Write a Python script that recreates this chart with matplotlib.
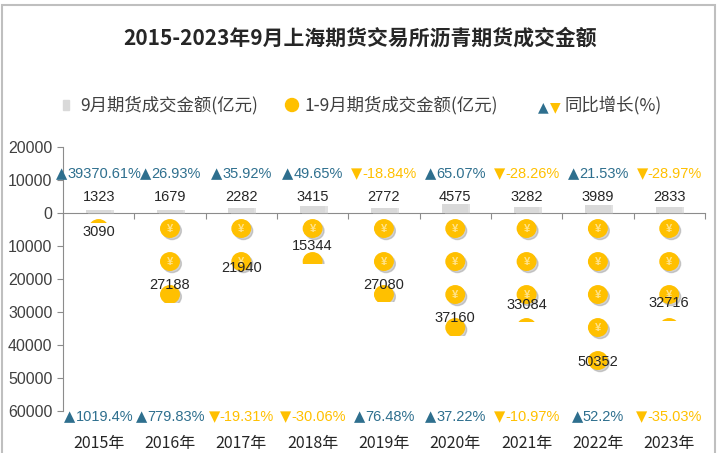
import numpy as np
import matplotlib.pyplot as plt
import matplotlib.transforms as mtransforms
from matplotlib.patches import Ellipse, Rectangle
from matplotlib.ticker import FuncFormatter
from matplotlib.offsetbox import TextArea, HPacker, AnnotationBbox

years = ['2015年', '2016年', '2017年', '2018年', '2019年', '2020年', '2021年', '2022年', '2023年']
sep_amount = [1323, 1679, 2282, 3415, 2772, 4575, 3282, 3989, 2833]
ytd_amount = [3090, 27188, 21940, 15344, 27080, 37160, 33084, 50352, 32716]
sep_yoy = [39370.61, 26.93, 35.92, 49.65, -18.84, 65.07, -28.26, 21.53, -28.97]
ytd_yoy = [1019.4, 779.83, -19.31, -30.06, 76.48, 37.22, -10.97, 52.2, -35.03]

blue = '#2E6F8E'
gold = '#FFC000'
numfont = ['Liberation Sans', 'DejaVu Sans']
cjk = ['Noto Sans CJK SC', 'DejaVu Sans']

fig = plt.figure(figsize=(7.2, 4.53), dpi=100)
# outer frame
fig.patches.append(Rectangle((0.003, -0.01), 0.99, 0.998, transform=fig.transFigure,
                             fill=False, edgecolor='#BFBFBF', linewidth=1.5))

ax = fig.add_axes([0.0875, 0.0927, 0.8915, 0.5828])
ax2 = ax.twinx()
ax2.set_ylim(-100000, 33333)
ax2.axis('off')

x = np.arange(len(years))
ax.set_xlim(-0.5, 8.5)
ax.set_ylim(-60000, 20000)

# 9月 bars (secondary scale) with a soft shadow
ax2.bar(x + 0.03, np.array(sep_amount) + 700, width=0.36, bottom=-700, color='#BDBDBD',
        alpha=0.45, zorder=1)
ax2.bar(x, sep_amount, width=0.36, color='#D9D9D9', zorder=2)
for i, v in enumerate(sep_amount):
    ax.text(i, 5000, str(v), ha='center', va='center', fontsize=10.5,
            family=numfont, color='#262626')

# 1-9月 coin pictograph, one coin per 10000
unit = 10000
cw, ch = 0.26, 5300
for i, v in enumerate(ytd_amount):
    clip = Rectangle((i - 0.5, -v), 1.0, v, transform=ax.transData)
    n = int(np.ceil(v / unit))
    for k in range(n):
        cy = -(k * unit + 4700)
        sh = Ellipse((i + 0.03, cy - 700), cw, ch, color='#9A9A9A', alpha=0.45, zorder=3)
        ax.add_patch(sh)
        sh.set_clip_path(clip)
        c = Ellipse((i, cy), cw, ch, color=gold, zorder=4)
        ax.add_patch(c)
        c.set_clip_path(clip)
        if -cy + ch / 2 <= v:
            ax.text(i, cy, '¥', ha='center', va='center', fontsize=8,
                    color='#FFE38A', fontweight='bold', family=numfont, zorder=5)
    ly = -max(v - 5300, 5800)
    ax.text(i, ly, str(v), ha='center', va='center', fontsize=10.5,
            family=numfont, color='#262626', zorder=6)


def pct_box(v):
    col = blue if v >= 0 else gold
    tri = TextArea('▲' if v >= 0 else '▼',
                   textprops=dict(color=col, fontsize=10.5, family='DejaVu Sans'))
    num = TextArea(str(v) + '%', textprops=dict(color=col, fontsize=10.5, family=numfont))
    return HPacker(children=[tri, num], sep=0, pad=0, align='baseline')


for i in range(len(years)):
    ab = AnnotationBbox(pct_box(sep_yoy[i]), (i, 12000), frameon=False, pad=0,
                        box_alignment=(0.5, 0.5), annotation_clip=False)
    ax.add_artist(ab)
    ab = AnnotationBbox(pct_box(ytd_yoy[i]), (i, -61600), frameon=False, pad=0,
                        box_alignment=(0.5, 0.5), annotation_clip=False)
    ax.add_artist(ab)

trans = mtransforms.blended_transform_factory(ax.transData, fig.transFigure)
for i, y in enumerate(years):
    ax.text(i, 0.02, y, transform=trans, ha='center', va='center', fontsize=11.5,
            family=cjk, color='#262626')

# axes styling
for s in ['top', 'right']:
    ax.spines[s].set_visible(False)
ax.spines['bottom'].set_position(('data', 0))
ax.spines['bottom'].set_color('#8C8C8C')
ax.spines['left'].set_color('#8C8C8C')
ax.set_xticks(np.arange(-0.5, 8.6, 1.0))
ax.set_xticklabels([])
ax.tick_params(axis='x', direction='out', length=4, color='#8C8C8C')
ax.set_yticks(np.arange(-60000, 20001, 10000))
ax.yaxis.set_major_formatter(FuncFormatter(lambda v, p: f'{abs(int(v))}'))
ax.tick_params(axis='y', direction='out', length=4, color='#8C8C8C', labelsize=11.5,
               labelcolor='#404040')
for lab in ax.get_yticklabels():
    lab.set_family(numfont)

# title
fig.text(0.5, 0.916, '2015-2023年9月上海期货交易所沥青期货成交金额', ha='center', va='center',
         fontsize=15, fontweight='bold', family=cjk, color='#262626')

# legend
ly = 1 - 105 / 453
fig.patches.append(Rectangle((63 / 720, ly - 0.011), 6 / 720, 0.022, transform=fig.transFigure,
                             color='#D9D9D9'))
fig.text(80 / 720, ly, '9月期货成交金额(亿元)', ha='left', va='center', fontsize=12.5,
         family=cjk, color='#404040')
fig.patches.append(Ellipse((292 / 720, ly), 13 / 720, 13 / 453, transform=fig.transFigure,
                           color=gold))
fig.text(304 / 720, ly, '1-9月期货成交金额(亿元)', ha='left', va='center', fontsize=12.5,
         family=cjk, color='#404040')
fig.text(538 / 720, ly - 0.006, '▲', ha='left', va='center', fontsize=10, color=blue,
         family='DejaVu Sans')
fig.text(550 / 720, ly - 0.006, '▼', ha='left', va='center', fontsize=10, color=gold,
         family='DejaVu Sans')
fig.text(564 / 720, ly, '同比增长(%)', ha='left', va='center', fontsize=12.5,
         family=cjk, color='#404040')

fig.savefig('out.png', dpi=100)
